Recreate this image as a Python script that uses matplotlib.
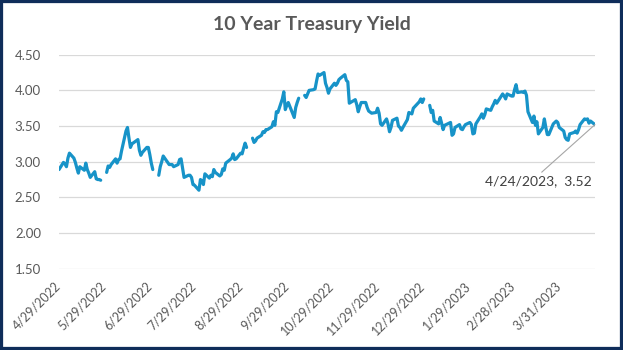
import numpy as np
import pandas as pd
import matplotlib
matplotlib.use("Agg")
import matplotlib.pyplot as plt
from matplotlib.patches import Rectangle

# daily 10y yields (%), business days; nan = no print (gap in line)
apr22 = [2.89]
may22 = [2.99, 2.97, 2.93, 3.05, 3.12, 3.05, 2.99, 2.91, 2.84, 2.93,
         2.88, 2.98, 2.89, 2.84, 2.78, 2.86, 2.76, 2.75, 2.75, 2.74,
         np.nan, 2.85]
jun22 = [2.94, 2.92, 2.96, 3.04, 2.98, 3.03, 3.04, 3.15, 3.43, 3.48,
         3.33, 3.20, 3.25, 3.31, 3.16, 3.09, 3.13, 3.20, 3.20, 3.10,
         2.98]
jul22 = [2.89, np.nan, 2.81, 2.93, 3.00, 3.08, 2.99, 2.96, 2.96, 2.96,
         2.93, 2.96, 3.03, 3.04, 2.91, 2.78, 2.81, 2.81, 2.78, 2.68,
         2.67]
aug22 = [2.60, 2.75, 2.73, 2.68, 2.83, 2.77, 2.81, 2.79, 2.89, 2.85,
         2.80, 2.82, 2.90, 2.88, 2.98, 3.03, 3.05, 3.11, 3.03, 3.04,
         3.12, 3.11, 3.19]
sep22 = [3.26, 3.20, np.nan, 3.33, 3.27, 3.29, 3.33, 3.37, 3.42, 3.41,
         3.45, 3.45, 3.49, 3.56, 3.51, 3.70, 3.69, 3.88, 3.98, 3.73,
         3.79, 3.83]
oct22 = [3.67, 3.62, 3.76, 3.83, 3.89, np.nan, 3.93, 3.90, 3.95, 4.00,
         4.01, 4.02, 4.13, 4.23, 4.21, 4.25, 4.10, 4.04, 3.96, 4.02,
         4.10]
nov22 = [4.07, 4.10, 4.15, 4.17, 4.22, 4.14, 4.12, 3.82, 3.87, 3.80,
         3.70, 3.77, 3.83, 3.83, 3.76, 3.71, 3.68, 3.69, 3.75, 3.68]
dec22 = [3.53, 3.51, 3.60, 3.53, 3.42, 3.48, 3.58, 3.61, 3.50, 3.48,
         3.44, 3.48, 3.59, 3.69, 3.68, 3.67, 3.75, 3.84, 3.88, 3.83,
         3.88]
jan23 = [np.nan, 3.79, 3.69, 3.72, 3.57, 3.53, 3.62, 3.54, 3.45, 3.51,
         3.55, 3.37, 3.39, 3.48, 3.52, 3.46, 3.45, 3.49, 3.52, 3.55,
         3.52]
feb23 = [3.39, 3.40, 3.53, 3.63, 3.67, 3.61, 3.66, 3.74, 3.72, 3.77,
         3.81, 3.86, 3.82, 3.95, 3.92, 3.88, 3.95, 3.92, 3.92]
mar23 = [4.01, 4.08, 3.97, 3.98, 3.97, 3.99, 3.93, 3.70, 3.55, 3.64,
         3.51, 3.56, 3.39, 3.48, 3.60, 3.48, 3.38, 3.38, 3.53, 3.55,
         3.57, 3.55, 3.48]
apr23 = [3.43, 3.34, 3.31, 3.30, 3.39, 3.41, 3.43, 3.40, 3.45, 3.52,
         3.60, 3.59, 3.60, 3.54, 3.57, 3.52]

# market holidays with no row at all (line just connects across)
no_row = ["2022-06-20", "2022-11-11", "2022-11-24", "2022-12-26",
          "2023-01-16", "2023-02-20"]

tick_labels = ["4/29/2022", "5/29/2022", "6/29/2022", "7/29/2022",
               "8/29/2022", "9/29/2022", "10/29/2022", "11/29/2022",
               "12/29/2022", "1/29/2023", "2/28/2023", "3/31/2023"]

dates = pd.bdate_range("2022-04-29", "2023-04-24").drop(pd.to_datetime(no_row))
yields = np.array(apr22 + may22 + jun22 + jul22 + aug22 + sep22 + oct22
                  + nov22 + dec22 + jan23 + feb23 + mar23 + apr23)
assert len(dates) == len(yields)

font = "Lato"
grey = "#595959"

fig = plt.figure(figsize=(6.23, 3.5), dpi=100)
ax = fig.add_axes([0.0947, 0.2323, 0.8603, 0.6114])

ax.plot(dates, yields, color="#1793c8", lw=2.3, solid_capstyle="round",
        solid_joinstyle="round")

ax.set_ylim(1.5, 4.5)
yt = np.arange(1.5, 4.51, 0.5)
ax.set_yticks(yt)
ax.set_yticklabels([f"{v:.2f}" for v in yt],
                   fontname=font, fontsize=9.5, color=grey)
ax.set_xlim(dates[0], dates[-1])
ticks = pd.to_datetime(tick_labels, format="%m/%d/%Y")
ax.set_xticks(ticks)
ax.set_xticklabels(tick_labels, rotation=45, ha="right", va="center",
                   rotation_mode="anchor", fontname=font, fontsize=9,
                   color=grey)
ax.tick_params(axis="both", length=0)
ax.tick_params(axis="x", pad=11)
ax.tick_params(axis="y", pad=13)
ax.grid(axis="y", color="#d9d9d9", lw=0.9)
ax.set_axisbelow(True)
for s in ax.spines.values():
    s.set_visible(False)

# label for the last print
last_d, last_v = dates[-1], yields[-1]
ax.annotate(f"{last_d.month}/{last_d.day}/{last_d.year},  {last_v:.2f}",
            xy=(last_d, last_v), xytext=(last_d - pd.Timedelta(days=2), 2.73),
            ha="right", va="center", fontname=font, fontsize=10,
            color="#404040",
            arrowprops=dict(arrowstyle="-", color="#a6a6a6", lw=0.8,
                            shrinkA=0, shrinkB=0,
                            relpos=(0.5, 1.0)))

fig.text(0.5, 0.93, "10 Year Treasury Yield", ha="center", va="center",
         fontname=font, fontsize=14, fontweight="bold", color=grey)

fig.patches.append(Rectangle((0, 0), 1, 1, transform=fig.transFigure,
                             fill=False, ec="#0f2d5a", lw=4.5))

fig.savefig("out.png", dpi=100)
